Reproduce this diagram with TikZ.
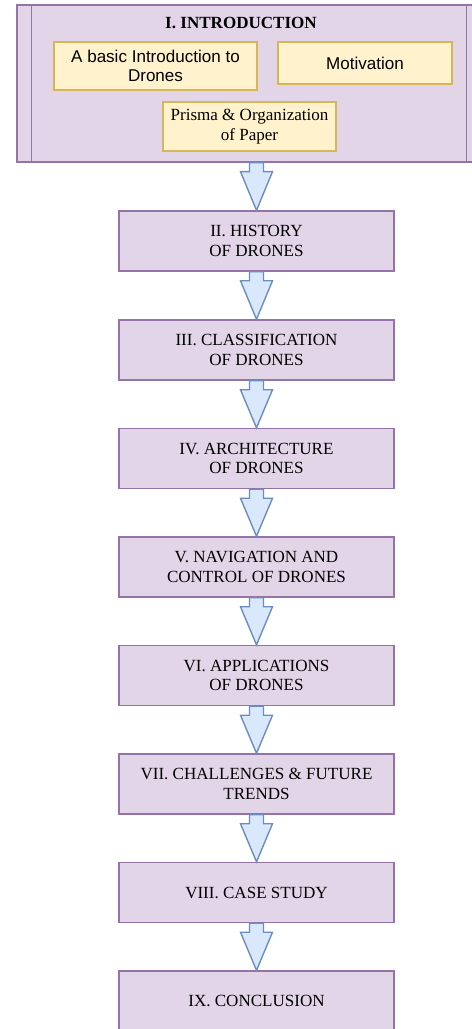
\documentclass[tikz,border=0pt]{standalone}
\usepackage{fontspec}
\setmainfont{Liberation Serif}
\newfontfamily\arialfont{Liberation Sans}
\usetikzlibrary{calc,positioning}
\definecolor{lilacfill}{HTML}{E1D5E7}
\definecolor{lilacdraw}{HTML}{9673A6}
\definecolor{notefill}{HTML}{FFF2CC}
\definecolor{notedraw}{HTML}{D6B656}
\definecolor{arrfill}{HTML}{DAE8FC}
\definecolor{arrdraw}{HTML}{6C8EBF}
\tikzset{
	section/.style = {draw=lilacdraw, fill=lilacfill, line width=0.8pt, minimum width=5.5cm, minimum height=1.2cm, align=center, inner sep=0pt, font=\fontsize{9.7}{11}\selectfont},
	note/.style = {draw=notedraw, fill=notefill, line width=0.8pt, align=center, inner sep=0pt, font=\fontsize{9.7}{11}\selectfont},
	flowarr/.style = {draw=arrdraw, fill=arrfill, line width=0.8pt, line join=miter},
}
\newcommand{\flowarrow}[2]{%
	\draw[flowarr] ($(#1.south -| #2.north)+(-7,0)$) -- ($(#1.south -| #2.north)+(7,0)$) -- ($(#1.south -| #2.north)+(7,9)$) -- ($(#1.south -| #2.north)+(16,9)$) -- (#2.north) -- ($(#1.south -| #2.north)+(-16,9)$) -- ($(#1.south -| #2.north)+(-7,9)$) -- cycle;}
\begin{document}
\begin{tikzpicture}[x=0.02cm, y=-0.02cm]
	\path[use as bounding box] (0,0) rectangle (471,1029);
	% introduction block
	\node[draw=lilacdraw, fill=lilacfill, line width=0.8pt, minimum width=9.16cm, minimum height=3.14cm, inner sep=0pt] (intro) at (246,83.5) {};
	\draw[lilacdraw, line width=0.8pt] ($(intro.north west)+(15,0)$) -- ($(intro.south west)+(15,0)$);
	\draw[lilacdraw, line width=0.8pt] ($(intro.north east)+(-9,0)$) -- ($(intro.south east)+(-9,0)$);
	\node[font=\fontsize{9.7}{11}\selectfont\bfseries] (introtitle) at (241,23) {I. INTRODUCTION};
	\node[note, minimum width=4.06cm, minimum height=0.96cm, font=\fontsize{9.7}{11}\selectfont\arialfont] (basics) at (155.5,66) {A basic Introduction to\\Drones};
	\node[note, minimum width=3.48cm, minimum height=0.84cm, font=\fontsize{9.7}{11}\selectfont\arialfont] (motiv) at (365,63) {Motivation};
	\node[note, minimum width=3.46cm, minimum height=0.98cm] (prisma) at (249.5,126.5) {Prisma \& Organization\\of Paper};
	% sections
	\node[section] (history) at (256.5,241) {II. HISTORY\\OF DRONES};
	\node[section] (classif) at (256.5,350) {III. CLASSIFICATION\\OF DRONES};
	\node[section] (archi) at (256.5,458.5) {IV. ARCHITECTURE\\OF DRONES};
	\node[section] (navig) at (256.5,567) {V. NAVIGATION AND\\CONTROL OF DRONES};
	\node[section] (applic) at (256.5,675.5) {VI. APPLICATIONS\\OF DRONES};
	\node[section] (challen) at (256.5,784) {VII. CHALLENGES \& FUTURE\\TRENDS};
	\node[section] (casest) at (256.5,892.5) {VIII. CASE STUDY};
	\node[section] (concl) at (256.5,1001) {IX. CONCLUSION};
	% arrows
	\foreach \a/\b in {intro/history, history/classif, classif/archi, archi/navig, navig/applic, applic/challen, challen/casest, casest/concl}
		\flowarrow{\a}{\b};
\end{tikzpicture}
\end{document}
